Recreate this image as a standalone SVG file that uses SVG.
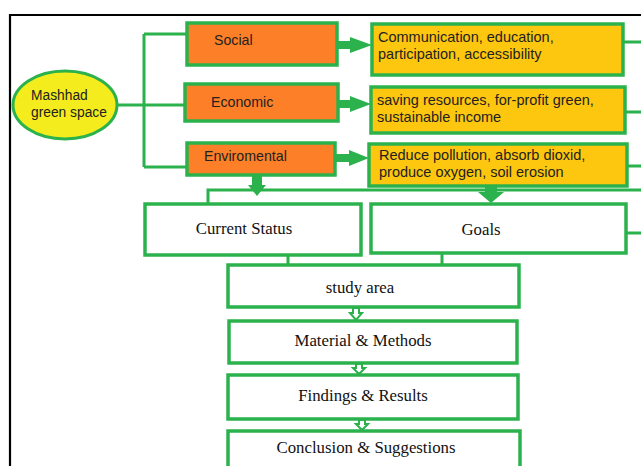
<svg xmlns="http://www.w3.org/2000/svg" width="641" height="466" viewBox="0 0 641 466">
<style>
.ln{stroke:#2bb24c;stroke-width:3;fill:none}
.org{fill:#fd7f27;stroke:#2bb24c;stroke-width:3.5}
.yel{fill:#fdc60f;stroke:#2bb24c;stroke-width:3.5}
.wht{fill:#fff;stroke:#2bb24c;stroke-width:3.5}
.sans{font-family:"Liberation Sans",Arial,sans-serif;font-size:14.5px;fill:#222}
.os{font-size:14.2px}
.es{font-size:13.8px}
.serif{font-family:"Liberation Serif","Times New Roman",serif;font-size:16.8px;fill:#111}
.fa{fill:#2bb24c}
.ha{fill:#fff;stroke:#2bb24c;stroke-width:2}
</style>
<rect width="641" height="466" fill="#fff"/>
<path d="M10 466V15H641" fill="none" stroke="#000" stroke-width="2.2"/>
<g id="connectors">
<path class="ln" d="M117 105H186M144 34V167M144 34H187M144 167H187"/>
<path class="ln" d="M623 42H641M625 112H641M627 166H641M626 233H641"/>
<path class="ln" d="M208 204V190H641"/>
<path class="ln" d="M288 255V265M442 253V265"/>
<path class="fa" d="M338 41H350V37L372 45L350 53V49H338Z"/>
<path class="fa" d="M338 100H350V96L371 104L350 112V108H338Z"/>
<path class="fa" d="M335 154H349V150L369 158L349 166V162H335Z"/>
<path class="fa" d="M252 176H262V185H266L257 196L248 185H252Z"/>
<path class="fa" d="M485 187H497V192H504L491 203L478 192H485Z"/>
<path class="ha" d="M353 308H359V313H362L356 320L350 313H353Z"/>
<path class="ha" d="M356 364H362V368H365L359 374L353 368H356Z"/>
<path class="ha" d="M359 420H365V424H368L362 430L356 424H359Z"/>
</g>
<g id="mashhad">
<ellipse cx="65" cy="105" rx="52" ry="34" fill="#f4ec1c" stroke="#2bb24c" stroke-width="3"/>
<text class="sans es" x="31" y="100">Mashhad</text>
<text class="sans es" x="31" y="117">green space</text>
</g>
<g id="social">
<rect class="org" x="187" y="23" width="150" height="42"/>
<text class="sans os" x="214" y="45">Social</text>
</g>
<g id="economic">
<rect class="org" x="185" y="84" width="153" height="37"/>
<text class="sans os" x="211" y="107">Economic</text>
</g>
<g id="enviromental">
<rect class="org" x="187" y="143" width="148" height="32"/>
<text class="sans os" x="204" y="161">Enviromental</text>
</g>
<g id="social-items">
<rect class="yel" x="372" y="24" width="251" height="51"/>
<text class="sans" x="378" y="42">Communication, education,</text>
<text class="sans" x="378" y="59">participation, accessibility</text>
</g>
<g id="economic-items">
<rect class="yel" x="371" y="87" width="254" height="46"/>
<text class="sans" x="377" y="105">saving resources, for-profit green,</text>
<text class="sans" x="377" y="122">sustainable income</text>
</g>
<g id="env-items">
<rect class="yel" x="369" y="144" width="258" height="42"/>
<text class="sans" x="379" y="160">Reduce pollution, absorb dioxid,</text>
<text class="sans" x="379" y="177">produce oxygen, soil erosion</text>
</g>
<g id="current-status">
<rect class="wht" x="145" y="204" width="216" height="51"/>
<text class="serif" x="244" y="234" text-anchor="middle">Current Status</text>
</g>
<g id="goals">
<rect class="wht" x="371" y="204" width="255" height="49"/>
<text class="serif" x="481" y="235" text-anchor="middle">Goals</text>
</g>
<g id="study-area">
<rect class="wht" x="228" y="265" width="291" height="42"/>
<text class="serif" x="360" y="293" text-anchor="middle">study area</text>
</g>
<g id="material-methods">
<rect class="wht" x="229" y="321" width="288" height="42"/>
<text class="serif" x="363" y="346" text-anchor="middle">Material &amp; Methods</text>
</g>
<g id="findings-results">
<rect class="wht" x="228" y="375" width="290" height="44"/>
<text class="serif" x="363" y="401" text-anchor="middle">Findings &amp; Results</text>
</g>
<g id="conclusion">
<rect class="wht" x="228" y="431" width="292" height="40"/>
<text class="serif" x="366" y="453" text-anchor="middle">Conclusion &amp; Suggestions</text>
</g>
</svg>
